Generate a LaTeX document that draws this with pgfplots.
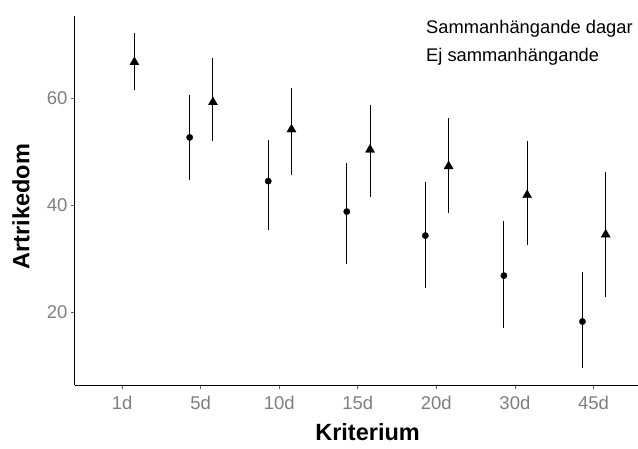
\documentclass[border=0pt]{standalone}
\usepackage{fontspec}
\setmainfont{Liberation Sans}
\usepackage{pgfplots}
\pgfplotsset{compat=1.18}
\usepackage{pgfplotstable}
\definecolor{tickgray}{RGB}{127,127,127}
\definecolor{tickmark}{RGB}{95,95,95}

\pgfplotstableread{
x     y     ep    em
0.156 66.8  5.5   5.2
1.156 59.3  8.2   7.3
2.156 54.2  7.7   8.5
3.156 50.4  8.3   8.9
4.156 47.3  9.1   8.8
5.156 41.9  10.2  9.4
6.156 34.5  11.8  11.7
}\sammanh

\pgfplotstableread{
x      y     ep    em
0.86   52.7  7.9   8.0
1.86   44.5  7.8   9.1
2.86   38.8  9.1   9.8
3.86   34.3  10.1  9.9
4.86   26.8  10.3  9.9
5.86   18.2  9.3   8.8
}\ejsammanh

\begin{document}
\begin{tikzpicture}
\useasboundingbox (-75pt,-62.7pt) rectangle (563pt,369.3pt+16pt);
\begin{axis}[
  scale only axis, width=563pt, height=369.3pt,
  at={(0,0)}, anchor=south west,
  xmin=-0.6, xmax=6.567, ymin=6.25, ymax=75.45,
  axis lines*=left,
  axis line style={black, line width=1pt},
  xtick={0,1,2,3,4,5,6},
  xticklabels={1d,5d,10d,15d,20d,30d,45d},
  ytick={20,40,60},
  tick align=outside, major tick length=4pt,
  tick style={tickmark, line width=0.8pt},
  ticklabel style={font=\fontsize{18.5}{20}\selectfont, text=tickgray},
  xticklabel style={yshift=-3pt},
  /pgf/number format/assume math mode=true,
  xlabel={Kriterium}, ylabel={Artrikedom},
  every axis x label/.style={at={(rel axis cs:0.5197,0)}, anchor=base, yshift=-55.5pt, font=\fontsize{23.5}{26}\selectfont\bfseries},
  every axis y label/.style={at={(rel axis cs:-0.0959,0.4837)}, anchor=center, rotate=90, font=\fontsize{23.5}{26}\selectfont\bfseries},
  clip=false,
]
\addplot[only marks, mark=triangle*, mark size=5.3pt, black,
  mark options={line width=0.3pt},
  error bars/.cd, y dir=both, y explicit, error mark=none,
  error bar style={black, line width=1pt}]
  table[x=x, y=y, y error plus=ep, y error minus=em] {\sammanh};
\addplot[only marks, mark=*, mark size=3.2pt, black,
  mark options={line width=0.3pt},
  error bars/.cd, y dir=both, y explicit, error mark=none,
  error bar style={black, line width=1pt}]
  table[x=x, y=y, y error plus=ep, y error minus=em] {\ejsammanh};
\node[anchor=base west, font=\fontsize{18.3}{20}\selectfont, inner sep=0pt] at (rel axis cs:0.6234,0.953) {Sammanhängande dagar};
\node[anchor=base west, font=\fontsize{18.3}{20}\selectfont, inner sep=0pt] at (rel axis cs:0.6234,0.876) {Ej sammanhängande};
\end{axis}
\end{tikzpicture}
\end{document}
